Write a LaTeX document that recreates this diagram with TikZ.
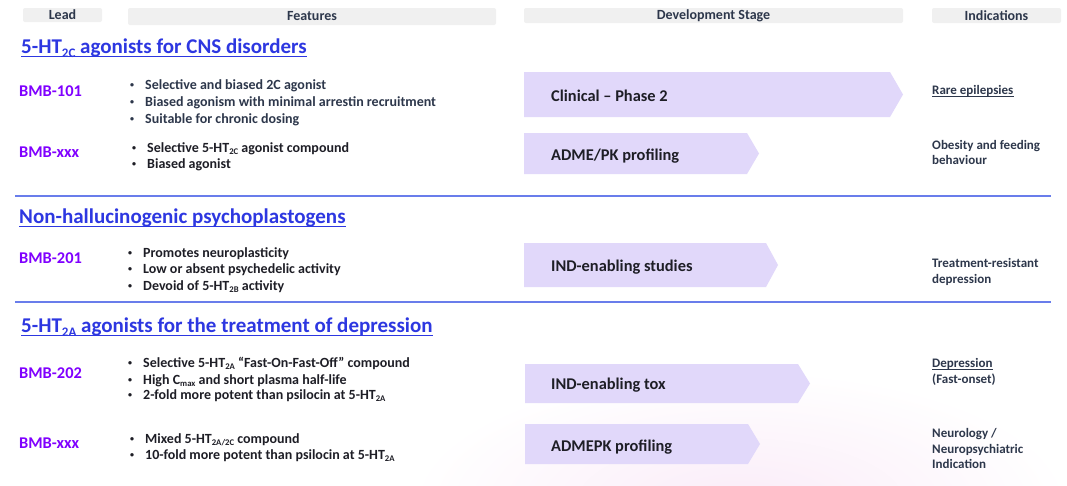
\documentclass[tikz,border=0pt]{standalone}
\usepackage{fontspec}
\usepackage{graphicx}
\setmainfont{Carlito}
\definecolor{leadpurple}{RGB}{128,0,255}
\definecolor{titleblue}{RGB}{45,55,225}
\definecolor{sepblue}{RGB}{105,125,235}
\definecolor{slate}{RGB}{45,55,75}
\definecolor{inkdark}{RGB}{30,30,38}
\definecolor{stagefill}{RGB}{225,216,250}
\definecolor{headfill}{RGB}{240,240,240}
\definecolor{haze}{RGB}{250,236,248}
\newcommand{\bitm}{\makebox[15pt][l]{\fontsize{8}{8}\selectfont\raisebox{1.6pt}{•}}}
\newcommand{\dsub}[1]{\raisebox{-0.2em}{\scalebox{0.62}{#1}}}
\begin{document}
\begin{tikzpicture}[x=1pt,y=-1pt,
  head/.style={fill=headfill, rounded corners=2pt, inner sep=0, font=\fontsize{14}{15}\selectfont\bfseries, text=slate},
  title/.style={anchor=base west, inner sep=0, font=\fontsize{21}{25}\selectfont\bfseries, text=titleblue},
  uline/.style={draw=titleblue, line width=1.3pt},
  lead/.style={anchor=base west, inner sep=0, font=\fontsize{16.4}{19}\selectfont\bfseries, text=leadpurple},
  feat/.style={anchor=base west, inner sep=0, font=\fontsize{14}{17}\selectfont\bfseries, text=slate},
  featdark/.style={feat, text=inkdark},
  stagebox/.style={fill=stagefill},
  stagetxt/.style={anchor=base west, inner sep=0, font=\fontsize{16.4}{19}\selectfont\bfseries, text=inkdark},
  ind/.style={anchor=base west, inner sep=0, font=\fontsize{13}{15}\selectfont\bfseries, text=slate},
  indline/.style={draw=slate, line width=0.7pt},
  sep/.style={draw=sepblue, line width=1.2pt}]
\useasboundingbox (0,0) rectangle (1067,485);
\fill[white] (0,0) rectangle (1067,485);
\shade[inner color=haze, outer color=white] (740,505) ellipse (330 and 135);

% headers
\node[head, minimum width=79, minimum height=14] (hlead) at (62.5,15) {Lead};
\node[head, minimum width=368, minimum height=17] (hfeat) at (312,16.5) {Features};
\node[head, minimum width=379, minimum height=15] (hdev) at (713.5,15.5) {Development Stage};
\node[head, minimum width=129, minimum height=15] (hind) at (996.5,15.5) {Indications};

% section titles
\node[title] (t1) at (21,53) {5-HT\dsub{2C} agonists for CNS disorders};
\draw[uline] ([yshift=-3.5pt]t1.base west) -- ([yshift=-3.5pt]t1.base east);
\node[title] (t2) at (19,223) {Non-hallucinogenic psychoplastogens};
\draw[uline] ([yshift=-3.5pt]t2.base west) -- ([yshift=-3.5pt]t2.base east);
\node[title] (t3) at (21,332) {5-HT\dsub{2A} agonists for the treatment of depression};
\draw[uline] ([yshift=-3.5pt]t3.base west) -- ([yshift=-3.5pt]t3.base east);

% separators
\draw[sep] (15,196) -- (1051,196);
\draw[sep] (15,302) -- (1051,302);

% leads
\node[lead] (l1) at (19,96.5) {BMB-101};
\node[lead] (l2) at (19,157.5) {BMB-xxx};
\node[lead] (l3) at (19,263.5) {BMB-201};
\node[lead] (l4) at (19,378.5) {BMB-202};
\node[lead] (l5) at (19,448.5) {BMB-xxx};

% features
\node[feat] (f11) at (130,89) {\bitm Selective and biased 2C agonist};
\node[feat] (f12) at (130,106) {\bitm Biased agonism with minimal arrestin recruitment};
\node[feat] (f13) at (130,123) {\bitm Suitable for chronic dosing};
\node[featdark] (f21) at (132,152) {\bitm Selective 5-HT\dsub{2C} agonist compound};
\node[featdark] (f22) at (132,168) {\bitm Biased agonist};
\node[featdark] (f31) at (128,257) {\bitm Promotes neuroplasticity};
\node[featdark] (f32) at (128,273) {\bitm Low or absent psychedelic activity};
\node[featdark] (f33) at (128,290) {\bitm Devoid of 5-HT\dsub{2B} activity};
\node[featdark] (f41) at (128,367) {\bitm Selective 5-HT\dsub{2A} “Fast-On-Fast-Off” compound};
\node[featdark] (f42) at (128,384) {\bitm High C\dsub{max} and short plasma half-life};
\node[featdark] (f43) at (128,399) {\bitm 2-fold more potent than psilocin at 5-HT\dsub{2A}};
\node[featdark] (f51) at (130,443) {\bitm Mixed 5-HT\dsub{2A/2C} compound};
\node[featdark] (f52) at (130,459) {\bitm 10-fold more potent than psilocin at 5-HT\dsub{2A}};

% stages
\fill[stagebox] (524,72) -- (890,72) -- (903,94.5) -- (890,117) -- (524,117) -- cycle;
\node[stagetxt] (s1) at (551,101.5) {Clinical – Phase 2};
\fill[stagebox] (524,133) -- (747,133) -- (759,153.5) -- (747,174) -- (524,174) -- cycle;
\node[stagetxt] (s2) at (551,160.5) {ADME/PK profiling};
\fill[stagebox] (524,243) -- (766,243) -- (778,265) -- (766,287) -- (524,287) -- cycle;
\node[stagetxt] (s3) at (551,271.5) {IND-enabling studies};
\fill[stagebox] (525,364) -- (798,364) -- (810,383.5) -- (798,403) -- (525,403) -- cycle;
\node[stagetxt] (s4) at (551,389.5) {IND-enabling tox};
\fill[stagebox] (525,424) -- (748,424) -- (760,444) -- (748,464) -- (525,464) -- cycle;
\node[stagetxt] (s5) at (551,451.5) {ADMEPK profiling};

% indications
\node[ind] (i1) at (932,94.5) {Rare epilepsies};
\draw[indline] ([yshift=-2pt]i1.base west) -- ([yshift=-2pt]i1.base east);
\node[ind] (i2a) at (932,149.5) {Obesity and feeding};
\node[ind] (i2b) at (932,164.5) {behaviour};
\node[ind] (i3a) at (932,267.5) {Treatment-resistant};
\node[ind] (i3b) at (932,283.5) {depression};
\node[ind] (i4a) at (932,367.5) {Depression};
\draw[indline] ([yshift=-2pt]i4a.base west) -- ([yshift=-2pt]i4a.base east);
\node[ind] (i4b) at (932,383.5) {(Fast-onset)};
\node[ind] (i5a) at (932,437.5) {Neurology /};
\node[ind] (i5b) at (932,453) {Neuropsychiatric};
\node[ind] (i5c) at (932,468.5) {Indication};
\end{tikzpicture}
\end{document}
